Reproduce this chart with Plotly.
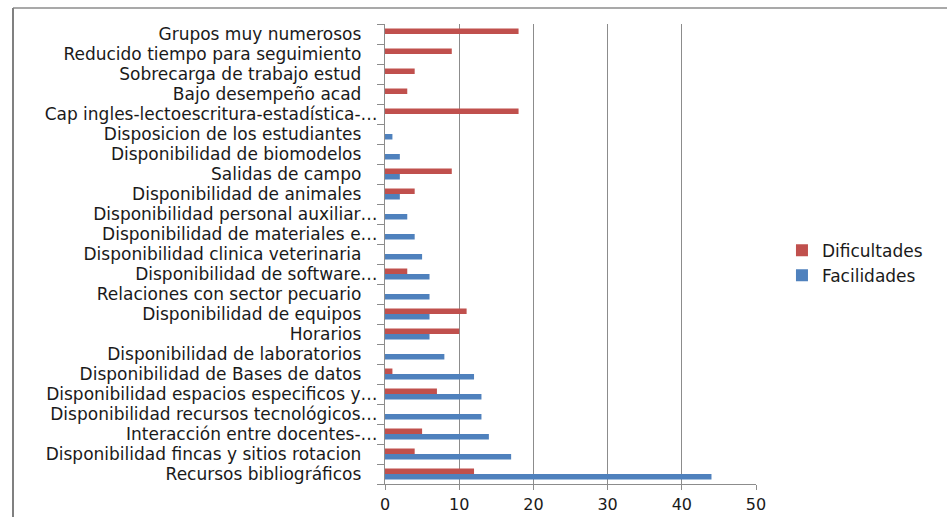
import plotly.graph_objects as go

categories = [
    "Grupos muy numerosos",
    "Reducido tiempo para seguimiento",
    "Sobrecarga de trabajo estud",
    "Bajo desempeño acad",
    "Cap ingles-lectoescritura-estadística-…",
    "Disposicion de los estudiantes",
    "Disponibilidad de biomodelos",
    "Salidas de campo",
    "Disponibilidad de animales",
    "Disponibilidad personal auxiliar…",
    "Disponibilidad de materiales e…",
    "Disponibilidad clinica veterinaria",
    "Disponibilidad de software…",
    "Relaciones con sector pecuario",
    "Disponibilidad de equipos",
    "Horarios",
    "Disponibilidad de laboratorios",
    "Disponibilidad de Bases de datos",
    "Disponibilidad espacios especificos y…",
    "Disponibilidad recursos tecnológicos…",
    "Interacción entre docentes-…",
    "Disponibilidad fincas y sitios rotacion",
    "Recursos bibliográficos",
]

dificultades = [18, 9, 4, 3, 18, 0, 0, 9, 4, 0, 0, 0, 3, 0, 11, 10, 0, 1, 7, 0, 5, 4, 12]
facilidades = [0, 0, 0, 0, 0, 1, 2, 2, 2, 3, 4, 5, 6, 6, 6, 6, 8, 12, 13, 13, 14, 17, 44]

x_ticks = [0, 10, 20, 30, 40, 50]

# labels without ellipsis sit a bit further from the axis in the original
ticktext = [c if c.endswith("…") else c + "\u00a0\u00a0\u00a0" for c in categories]

fig = go.Figure()
fig.add_trace(go.Bar(
    y=categories, x=dificultades, orientation="h", name="Dificultades",
    marker=dict(color="#C0504D", line=dict(width=0)),
))
fig.add_trace(go.Bar(
    y=categories, x=facilidades, orientation="h", name="Facilidades",
    marker=dict(color="#4F81BD", line=dict(width=0)),
))

fig.update_layout(
    width=947, height=517,
    margin=dict(l=385, r=191, t=24, b=33),
    paper_bgcolor="white", plot_bgcolor="white",
    barmode="group", bargap=0.45, bargroupgap=0,
    font=dict(family="DejaVu Sans", size=17, color="#1a1a1a"),
    showlegend=True,
    legend=dict(x=1.07, xanchor="left", y=0.48, yanchor="middle",
                font=dict(size=17), tracegroupgap=0, itemwidth=30,
                bgcolor="rgba(0,0,0,0)"),
    xaxis=dict(
        range=[0, 50], tickvals=x_ticks, showgrid=True, gridcolor="#8c8c8c",
        gridwidth=1, zeroline=False, showline=True, linecolor="#8c8c8c",
        ticks="outside", ticklen=5, tickcolor="#8c8c8c", tickfont=dict(size=16),
        ticklabelstandoff=1, automargin=False, fixedrange=True,
    ),
    yaxis=dict(
        categoryorder="array", categoryarray=categories, autorange="reversed",
        tickmode="array", tickvals=categories, ticktext=ticktext,
        tickson="boundaries", ticks="outside", ticklen=7, tickcolor="#8c8c8c",
        showline=True, linecolor="#8c8c8c", showgrid=False,
        tickfont=dict(size=17), ticklabelstandoff=3, automargin=False,
    ),
)

# outer frame of the original picture (plot area spans y 24..484 px)
def py(px):
    return (484 - px) / 460

fig.add_shape(type="line", xref="paper", yref="paper",
              x0=(13 - 385) / 371, x1=(960 - 385) / 371,
              y0=py(8), y1=py(8),
              line=dict(color="#8c8c8c", width=1.5))
fig.add_shape(type="line", xref="paper", yref="paper",
              x0=(13 - 385) / 371, x1=(13 - 385) / 371,
              y0=py(8), y1=py(530),
              line=dict(color="#808080", width=2))

fig.write_html("out.html")
